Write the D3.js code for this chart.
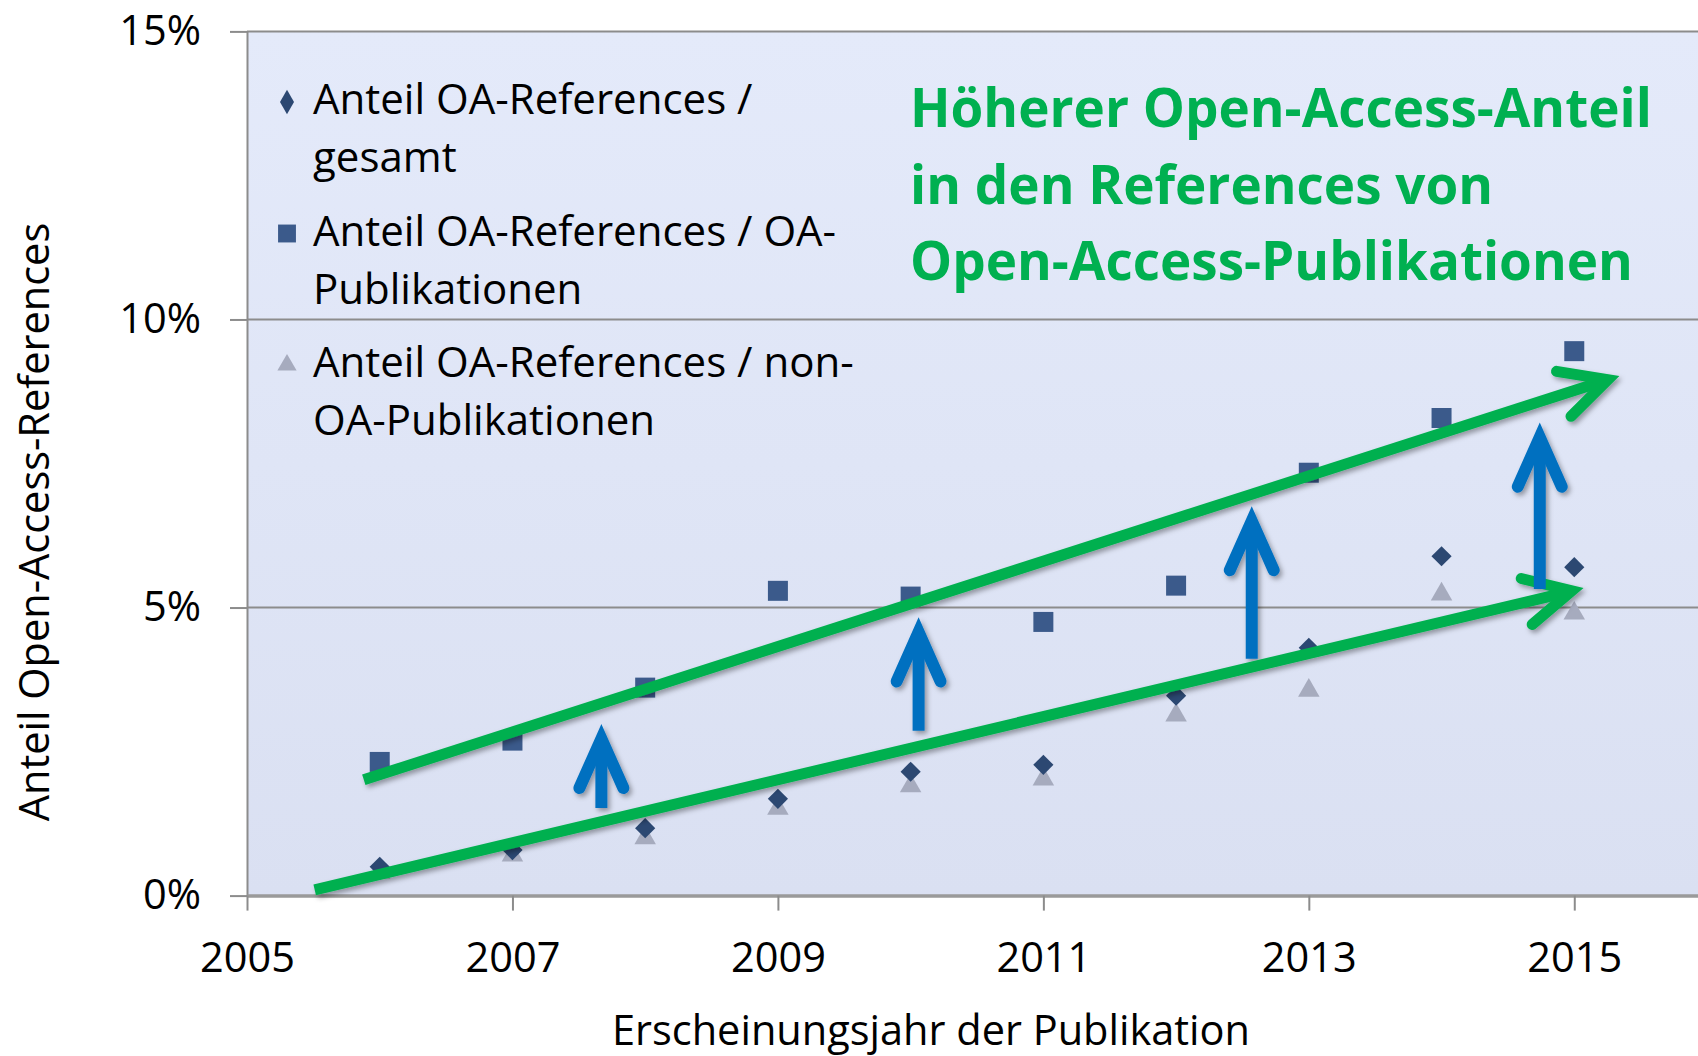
<!DOCTYPE html>
<html>
<head>
<meta charset="utf-8">
<script src="https://cdn.jsdelivr.net/npm/d3@7/dist/d3.min.js"></script>
<style>
  html, body { margin: 0; padding: 0; background: #fff; }
  svg { display: block; }
</style>
</head>
<body>
<div id="chart"></div>
<script>
// values (percent)
const years = [2006, 2007, 2008, 2009, 2010, 2011, 2012, 2013, 2014, 2015];
const shareTotal = [0.50, 0.79, 1.17, 1.68, 2.15, 2.27, 3.47, 4.30, 5.89, 5.70];
const shareOaPub = [2.32, 2.69, 3.61, 5.29, 5.19, 4.75, 5.38, 7.34, 8.29, 9.45];
const shareNonOaPub = [0.40, 0.70, 1.00, 1.51, 1.90, 2.02, 3.13, 3.56, 5.23, 4.90];

const seriesNames = [
  ["Anteil OA-References /", "gesamt"],
  ["Anteil OA-References / OA-", "Publikationen"],
  ["Anteil OA-References / non-", "OA-Publikationen"]
];
const yTicks = [0, 5, 10, 15];
const xTicks = [2005, 2007, 2009, 2011, 2013, 2015];
const noteLines = ["Höherer Open-Access-Anteil", "in den References von", "Open-Access-Publikationen"];

// hand-drawn annotations, in data units (year, percent)
const trendArrows = [
  {x1: 2005.88, y1: 2.01, x2: 2015.34, y2: 9.02},
  {x1: 2005.51, y1: 0.10, x2: 2015.07, y2: 5.34}
];
const riseArrows = [
  {year: 2007.67, from: 1.52, to: 2.98},
  {year: 2010.06, from: 2.86, to: 4.83},
  {year: 2012.57, from: 4.11, to: 6.76},
  {year: 2014.74, from: 5.32, to: 8.21}
];

let w = 1698;
let h = 1056;
const font = "'Open Sans', 'DejaVu Sans', sans-serif";

const x = d3.scaleLinear().domain([2005, 2016]).range([247, 1707]);
const y = d3.scaleLinear().domain([0, 15]).range([895.6, 31.4]);

const svg = d3.select("#chart").append("svg")
    .attr("width", w)
    .attr("height", h)
    .attr("viewBox", "0 0 " + w + " " + h);

const defs = svg.append("defs");
const grad = defs.append("linearGradient")
    .attr("id", "plotbg")
    .attr("x1", 0).attr("y1", 0).attr("x2", 0).attr("y2", 1);
grad.append("stop").attr("offset", "0%").attr("stop-color", "#e4eafa");
grad.append("stop").attr("offset", "100%").attr("stop-color", "#dae0f2");

defs.append("filter")
    .attr("id", "shadow")
    .attr("x", "-20%").attr("y", "-20%").attr("width", "140%").attr("height", "140%")
  .append("feDropShadow")
    .attr("dx", 2.5).attr("dy", 3)
    .attr("stdDeviation", 2.5)
    .attr("flood-color", "#000")
    .attr("flood-opacity", 0.35);

// plot area
svg.append("rect")
    .attr("x", x(2005))
    .attr("y", y(15))
    .attr("width", x(2016) - x(2005))
    .attr("height", y(0) - y(15))
    .attr("fill", "url(#plotbg)");

// gridlines
svg.append("g")
    .selectAll("line")
    .data(yTicks.filter(d => d > 0))
    .join("line")
      .attr("x1", x(2005)).attr("x2", x(2016))
      .attr("y1", d => y(d)).attr("y2", d => y(d))
      .attr("stroke", "#8c8c8c")
      .attr("stroke-width", 2);

// y axis
const yAxis = svg.append("g")
    .attr("transform", "translate(" + x(2005) + ",0)")
    .call(d3.axisLeft(y).tickValues(yTicks).tickFormat(d => d + "%").tickSize(17).tickSizeOuter(0).tickPadding(29));
yAxis.select(".domain").attr("stroke", "#8c8c8c").attr("stroke-width", 2);
yAxis.selectAll(".tick line").attr("stroke", "#8c8c8c").attr("stroke-width", 2);
yAxis.selectAll("text")
    .attr("font-family", font)
    .attr("font-size", 41.5)
    .attr("fill", "#000");

// x axis
const xAxis = svg.append("g")
    .attr("transform", "translate(0," + y(0) + ")")
    .call(d3.axisBottom(x).tickValues(xTicks).tickFormat(d3.format("d")).tickSize(15).tickSizeOuter(0).tickPadding(32));
xAxis.select(".domain").attr("stroke", "#9a9a9a").attr("stroke-width", 3.5);
xAxis.selectAll(".tick line").attr("stroke", "#8c8c8c").attr("stroke-width", 2);
xAxis.selectAll("text")
    .attr("font-family", font)
    .attr("font-size", 41.5)
    .attr("fill", "#000");

// axis titles
svg.append("text")
    .attr("x", (x(2005) + 1615) / 2)
    .attr("y", 1045)
    .attr("text-anchor", "middle")
    .attr("font-family", font)
    .attr("font-size", 41.5)
    .text("Erscheinungsjahr der Publikation");

svg.append("text")
    .attr("transform", "translate(49,522) rotate(-90)")
    .attr("text-anchor", "middle")
    .attr("font-family", font)
    .attr("font-size", 41.5)
    .text("Anteil Open-Access-References");

// points
const series = [
  {values: shareTotal, symbol: d3.symbolDiamond2, size: 260, color: "#2c4872"},
  {values: shareOaPub, symbol: d3.symbolSquare, size: 400, color: "#3b5a8b"},
  {values: shareNonOaPub, symbol: d3.symbolTriangle, size: 200, color: "#a6abbe"}
];

// draw squares first, then triangles, diamonds on top
[1, 2, 0].forEach(i => {
  const s = series[i];
  svg.append("g")
    .selectAll("path")
    .data(years.map((yr, j) => ({year: yr, value: s.values[j]})))
    .join("path")
      .attr("transform", d => "translate(" + x(d.year) + "," + y(d.value) + ")")
      .attr("d", d3.symbol(s.symbol, s.size))
      .attr("fill", s.color);
});

// legend
const legendMarks = [
  {symbol: d3.symbolDiamond, size: 170},
  {symbol: d3.symbolSquare, size: 320},
  {symbol: d3.symbolTriangle, size: 160}
];
const legend = svg.append("g").attr("transform", "translate(287,0)");
seriesNames.forEach((lines, i) => {
  let base = 114 + i * 131.5;
  legend.append("path")
    .attr("transform", "translate(0," + (base - 12) + ")")
    .attr("d", d3.symbol(legendMarks[i].symbol, legendMarks[i].size))
    .attr("fill", series[i].color);
  lines.forEach((t, k) => {
    legend.append("text")
      .attr("x", 26)
      .attr("y", base + k * 58)
      .attr("font-family", font)
      .attr("font-size", 42)
      .attr("fill", "#000")
      .text(t);
  });
});

// green note
noteLines.forEach((t, k) => {
  svg.append("text")
    .attr("x", 910)
    .attr("y", 127 + k * 76.5)
    .attr("font-family", font)
    .attr("font-weight", "bold")
    .attr("font-size", 53)
    .attr("fill", "#00b050")
    .text(t);
});

// chevron head: the stroke's miter pokes past the centre point, so pull it back
function chevron(tx, ty, dx, dy, len, ang, sw) {
  let l = Math.hypot(dx, dy);
  let ux = dx / l, uy = dy / l;
  let back = (sw / 2) / Math.sin(ang);
  let px = tx - ux * back, py = ty - uy * back;
  let arms = [ang, -ang].map(a => {
    let c = Math.cos(a), s = Math.sin(a);
    return [px + (-ux * c + uy * s) * len, py + (-ux * s - uy * c) * len];
  });
  return {tip: [px, py], path: "M" + arms[0] + "L" + [px, py] + "L" + arms[1]};
}

// green trend arrows
const arrowLayer = svg.append("g").attr("filter", "url(#shadow)");
trendArrows.forEach(a => {
  let x1 = x(a.x1), y1 = y(a.y1), x2 = x(a.x2), y2 = y(a.y2);
  let head = chevron(x2, y2, x2 - x1, y2 - y1, 52, 27 * Math.PI / 180, 11);
  arrowLayer.append("line")
    .attr("x1", x1).attr("y1", y1).attr("x2", head.tip[0] - 4).attr("y2", head.tip[1] + 1.3)
    .attr("stroke", "#00b050")
    .attr("stroke-width", 11);
  arrowLayer.append("path")
    .attr("d", head.path)
    .attr("fill", "none")
    .attr("stroke", "#00b050")
    .attr("stroke-width", 11)
    .attr("stroke-linecap", "round")
    .attr("stroke-linejoin", "miter");
});

// blue rise arrows
riseArrows.forEach(a => {
  let px = x(a.year), yb = y(a.from), yt = y(a.to);
  let head = chevron(px, yt, 0, yt - yb, 54, 24 * Math.PI / 180, 12);
  arrowLayer.append("line")
    .attr("x1", px).attr("y1", yb).attr("x2", px).attr("y2", head.tip[1] + 6)
    .attr("stroke", "#0070c0")
    .attr("stroke-width", 12);
  arrowLayer.append("path")
    .attr("d", head.path)
    .attr("fill", "none")
    .attr("stroke", "#0070c0")
    .attr("stroke-width", 12)
    .attr("stroke-linecap", "round")
    .attr("stroke-linejoin", "miter");
});
</script>
</body>
</html>
